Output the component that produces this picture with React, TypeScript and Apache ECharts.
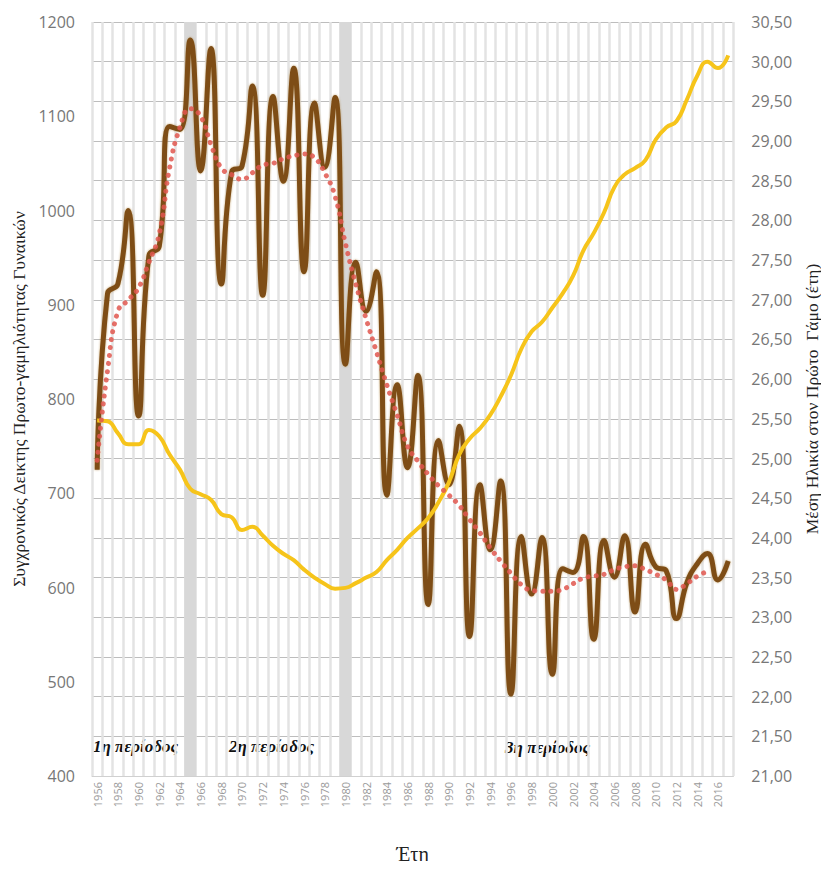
import React, { useEffect, useRef } from "react";
import * as echarts from "echarts";

const years: string[] = [];
for (let y = 1956; y <= 2017; y++) years.push(String(y));

const indexValues = [
  725, 912, 922, 1000, 782, 952, 962, 1089, 1086, 1181,
  1042, 1172, 922, 1041, 1047, 1132, 910, 1121, 1031, 1151,
  935, 1114, 1046, 1120, 837, 945, 893, 935, 698, 815,
  727, 825, 582, 756, 709, 771, 548, 709, 640, 713,
  487, 654, 593, 653, 508, 620, 616, 654, 545, 650,
  611, 655, 574, 646, 622, 618, 567, 605, 625, 636,
  608, 628,
];

const trendValues = [
  735, 830, 893, 905, 918, 945, 975, 1045, 1088, 1108,
  1100, 1070, 1045, 1038, 1033, 1040, 1048, 1050, 1055, 1058,
  1060, 1056, 1040, 1015, 965, 922, 885, 850, 815, 783,
  750, 734, 720, 708, 698, 687, 672, 658, 642, 628,
  615, 603, 597, 596, 596, 598, 604, 610, 612, 614,
  619, 622, 623, 619, 614, 608, 598, 604, 612, 617,
  null, null,
];

const ageValues = [
  25.48, 25.47, 25.32, 25.18, 25.18, 25.36, 25.28, 25.05, 24.86, 24.62,
  24.55, 24.48, 24.3, 24.26, 24.1, 24.14, 24.03, 23.9, 23.8, 23.72,
  23.6, 23.5, 23.42, 23.36, 23.37, 23.43, 23.5, 23.57, 23.72, 23.85,
  24.0, 24.12, 24.25, 24.45, 24.7, 25.05, 25.25, 25.38, 25.55, 25.78,
  26.05, 26.38, 26.6, 26.72, 26.9, 27.08, 27.3, 27.62, 27.84, 28.1,
  28.42, 28.58, 28.66, 28.76, 29.02, 29.17, 29.25, 29.52, 29.82, 30.0,
  29.92, 30.08,
];

const bandYears = ["1965", "1980"];
const periodLabels = ["1η περίοδος", "2η περίοδος", "3η περίοδος"];

const leftTitle = "Συγχρονικός Δεικτης Πρωτο-γαμηλιότητας Γυναικών";
const rightTitle = "Μέση Ηλικία στον Πρώτο  Γάμο (έτη)";
const xTitle = "Έτη";

export default function App() {
  const ref = useRef<HTMLDivElement>(null);
  useEffect(() => {
    if (!ref.current) return;
    const chart = echarts.init(ref.current, undefined, { renderer: "svg" });
    const bandData = years.map((y) => (bandYears.includes(y) ? 1200 : null));
    const serif = "'Liberation Serif', 'DejaVu Serif', serif";
    const sans = "'Open Sans', 'Liberation Sans', sans-serif";
    const periodFont = "italic bold 17px 'Liberation Serif', serif";
    chart.setOption({
      animation: false,
      backgroundColor: "#ffffff",
      grid: { left: 92, right: 90, top: 22, bottom: 89, containLabel: false },
      xAxis: {
        type: "category",
        data: years,
        boundaryGap: true,
        name: xTitle,
        nameLocation: "middle",
        nameGap: 68,
        nameTextStyle: { fontFamily: serif, fontSize: 20, color: "#222" },
        axisLine: { show: true, lineStyle: { color: "#d0d0d0" } },
        axisTick: { show: false },
        axisLabel: {
          interval: 1,
          rotate: 90,
          fontSize: 11,
          color: "#9a9a9a",
          fontFamily: sans,
          margin: 6,
        },
        splitLine: {
          show: true,
          interval: 0,
          lineStyle: { color: "#e3e3e3", width: 2.5 },
        },
      },
      yAxis: [
        {
          type: "value",
          min: 400,
          max: 1200,
          interval: 100,
          position: "left",
          name: leftTitle,
          nameLocation: "middle",
          nameGap: 64,
          nameRotate: 90,
          nameTextStyle: { fontFamily: serif, fontSize: 17.5, color: "#222" },
          axisLine: { show: false },
          axisTick: { show: false },
          axisLabel: {
            fontSize: 16,
            color: "#777",
            fontFamily: sans,
            margin: 17,
            formatter: (v: number) => String(v),
          },
          splitLine: { show: false },
        },
        {
          type: "value",
          min: 21,
          max: 30.5,
          interval: 0.5,
          position: "right",
          name: rightTitle,
          nameLocation: "middle",
          nameGap: 66,
          nameRotate: 90,
          nameTextStyle: { fontFamily: serif, fontSize: 17.5, color: "#222" },
          axisLine: { show: false },
          axisTick: { show: false },
          axisLabel: {
            fontSize: 16,
            color: "#777",
            fontFamily: sans,
            margin: 18,
            formatter: (v: number) => v.toFixed(2).replace(".", ","),
          },
          splitLine: { show: true, lineStyle: { color: "#bdbdbd", width: 1 } },
        },
      ],
      graphic: [
        { type: "text", left: 93, top: 738, style: { text: periodLabels[0], font: periodFont, fill: "#111" } },
        { type: "text", left: 229, top: 738, style: { text: periodLabels[1], font: periodFont, fill: "#111" } },
        { type: "text", left: 505, top: 739, style: { text: periodLabels[2], font: periodFont, fill: "#111" } },
      ],
      series: [
        {
          type: "bar",
          data: bandData,
          yAxisIndex: 0,
          barWidth: 12,
          itemStyle: { color: "#d8d8d8" },
          silent: true,
          z: 1,
        },
        {
          type: "line",
          data: indexValues,
          yAxisIndex: 0,
          smooth: 0.5,
          symbol: "none",
          lineStyle: {
            color: "#7e4e14",
            width: 5,
            shadowColor: "rgba(160,110,40,0.6)",
            shadowBlur: 2,
          },
          z: 3,
        },
        {
          type: "line",
          data: ageValues,
          yAxisIndex: 1,
          smooth: 0.5,
          symbol: "none",
          lineStyle: { color: "#f6c41a", width: 4 },
          z: 4,
        },
        {
          type: "line",
          data: trendValues,
          yAxisIndex: 0,
          smooth: 0.5,
          symbol: "none",
          connectNulls: false,
          lineStyle: { color: "#e0574f", width: 5, type: [0.1, 8], cap: "round", opacity: 0.85 },
          z: 5,
        },
      ],
    });
    return () => chart.dispose();
  }, []);
  return <div ref={ref} style={{ width: 829, height: 869, margin: -8 }} />;
}
